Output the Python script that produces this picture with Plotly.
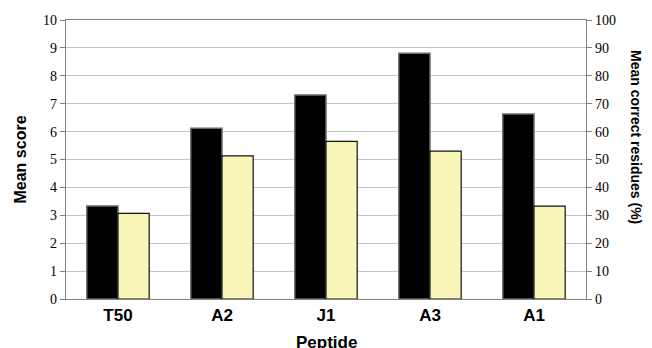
import plotly.graph_objects as go

peptides = ["T50", "A2", "J1", "A3", "A1"]
mean_score = [3.33, 6.12, 7.31, 8.81, 6.63]
mean_correct_pct = [30.7, 51.3, 56.5, 53.0, 33.3]
left_ticks = list(range(0, 11))
right_ticks = list(range(0, 101, 10))

fig = go.Figure()
fig.add_trace(go.Bar(
    x=peptides, y=mean_score, name="Mean score",
    marker=dict(color="#000000", line=dict(color="#6a6a6a", width=1.5)),
    offsetgroup="a", yaxis="y",
))
fig.add_trace(go.Bar(
    x=peptides, y=mean_correct_pct, name="Mean correct residues (%)",
    marker=dict(color="#F8F5B6", line=dict(color="#111111", width=1.2)),
    offsetgroup="b", yaxis="y2",
))

serif = "Liberation Serif, Times New Roman, serif"
sans = "Liberation Sans, Arial, sans-serif"
tickfont = dict(family=serif, size=14, color="#000000")

# page has an 8px body margin; figure sized so the plot area lands at x 66-586, y 20-299
W, H = 644, 340
ML, MR, MT, MB = 58, 66, 12, 49
pw = W - ML - MR
ph = H - MT - MB

fig.update_layout(
    template="none",
    width=W, height=H,
    margin=dict(l=ML, r=MR, t=MT, b=MB, autoexpand=False),
    paper_bgcolor="white", plot_bgcolor="white",
    barmode="group", bargap=0.4, bargroupgap=0,
    showlegend=False,
    xaxis=dict(
        automargin=False,
        showgrid=False, showline=True, linecolor="#808080", linewidth=1.2,
        mirror=True, ticks="", tickfont=dict(family=sans, size=17, color="#000000", weight="bold"),
        tickvals=peptides,
    ),
    yaxis=dict(
        automargin=False,
        range=[0, 10], tickvals=left_ticks, showgrid=True, gridcolor="#c4c4c4", gridwidth=1,
        showline=True, linecolor="#808080", linewidth=1.2, ticks="outside", ticklen=5,
        tickcolor="#808080", tickfont=tickfont, zeroline=False,
    ),
    yaxis2=dict(
        automargin=False,
        range=[0, 100], tickvals=right_ticks, overlaying="y", side="right", showgrid=False,
        showline=True, linecolor="#808080", linewidth=1.2, ticks="outside", ticklen=5,
        tickcolor="#808080", tickfont=tickfont, zeroline=False,
    ),
    annotations=[
        dict(text="<b>Mean score</b>", x=(20 - 66) / pw, xref="paper", y=0.5, yref="paper",
             xanchor="center", yanchor="middle", textangle=-90, showarrow=False,
             font=dict(family=sans, size=16, color="#000000")),
        dict(text="<b>Mean correct residues (%)</b>", x=(636 - 66) / pw, xref="paper",
             y=(299 - 137) / ph, yref="paper",
             xanchor="center", yanchor="middle", textangle=90, showarrow=False,
             font=dict(family=sans, size=14, color="#000000")),
        dict(text="<b>Peptide</b>", x=0.5, xref="paper", y=0, yref="paper", yshift=-32,
             xanchor="center", yanchor="top", showarrow=False,
             font=dict(family=sans, size=17, color="#000000")),
    ],
)

fig.write_html("out.html")
